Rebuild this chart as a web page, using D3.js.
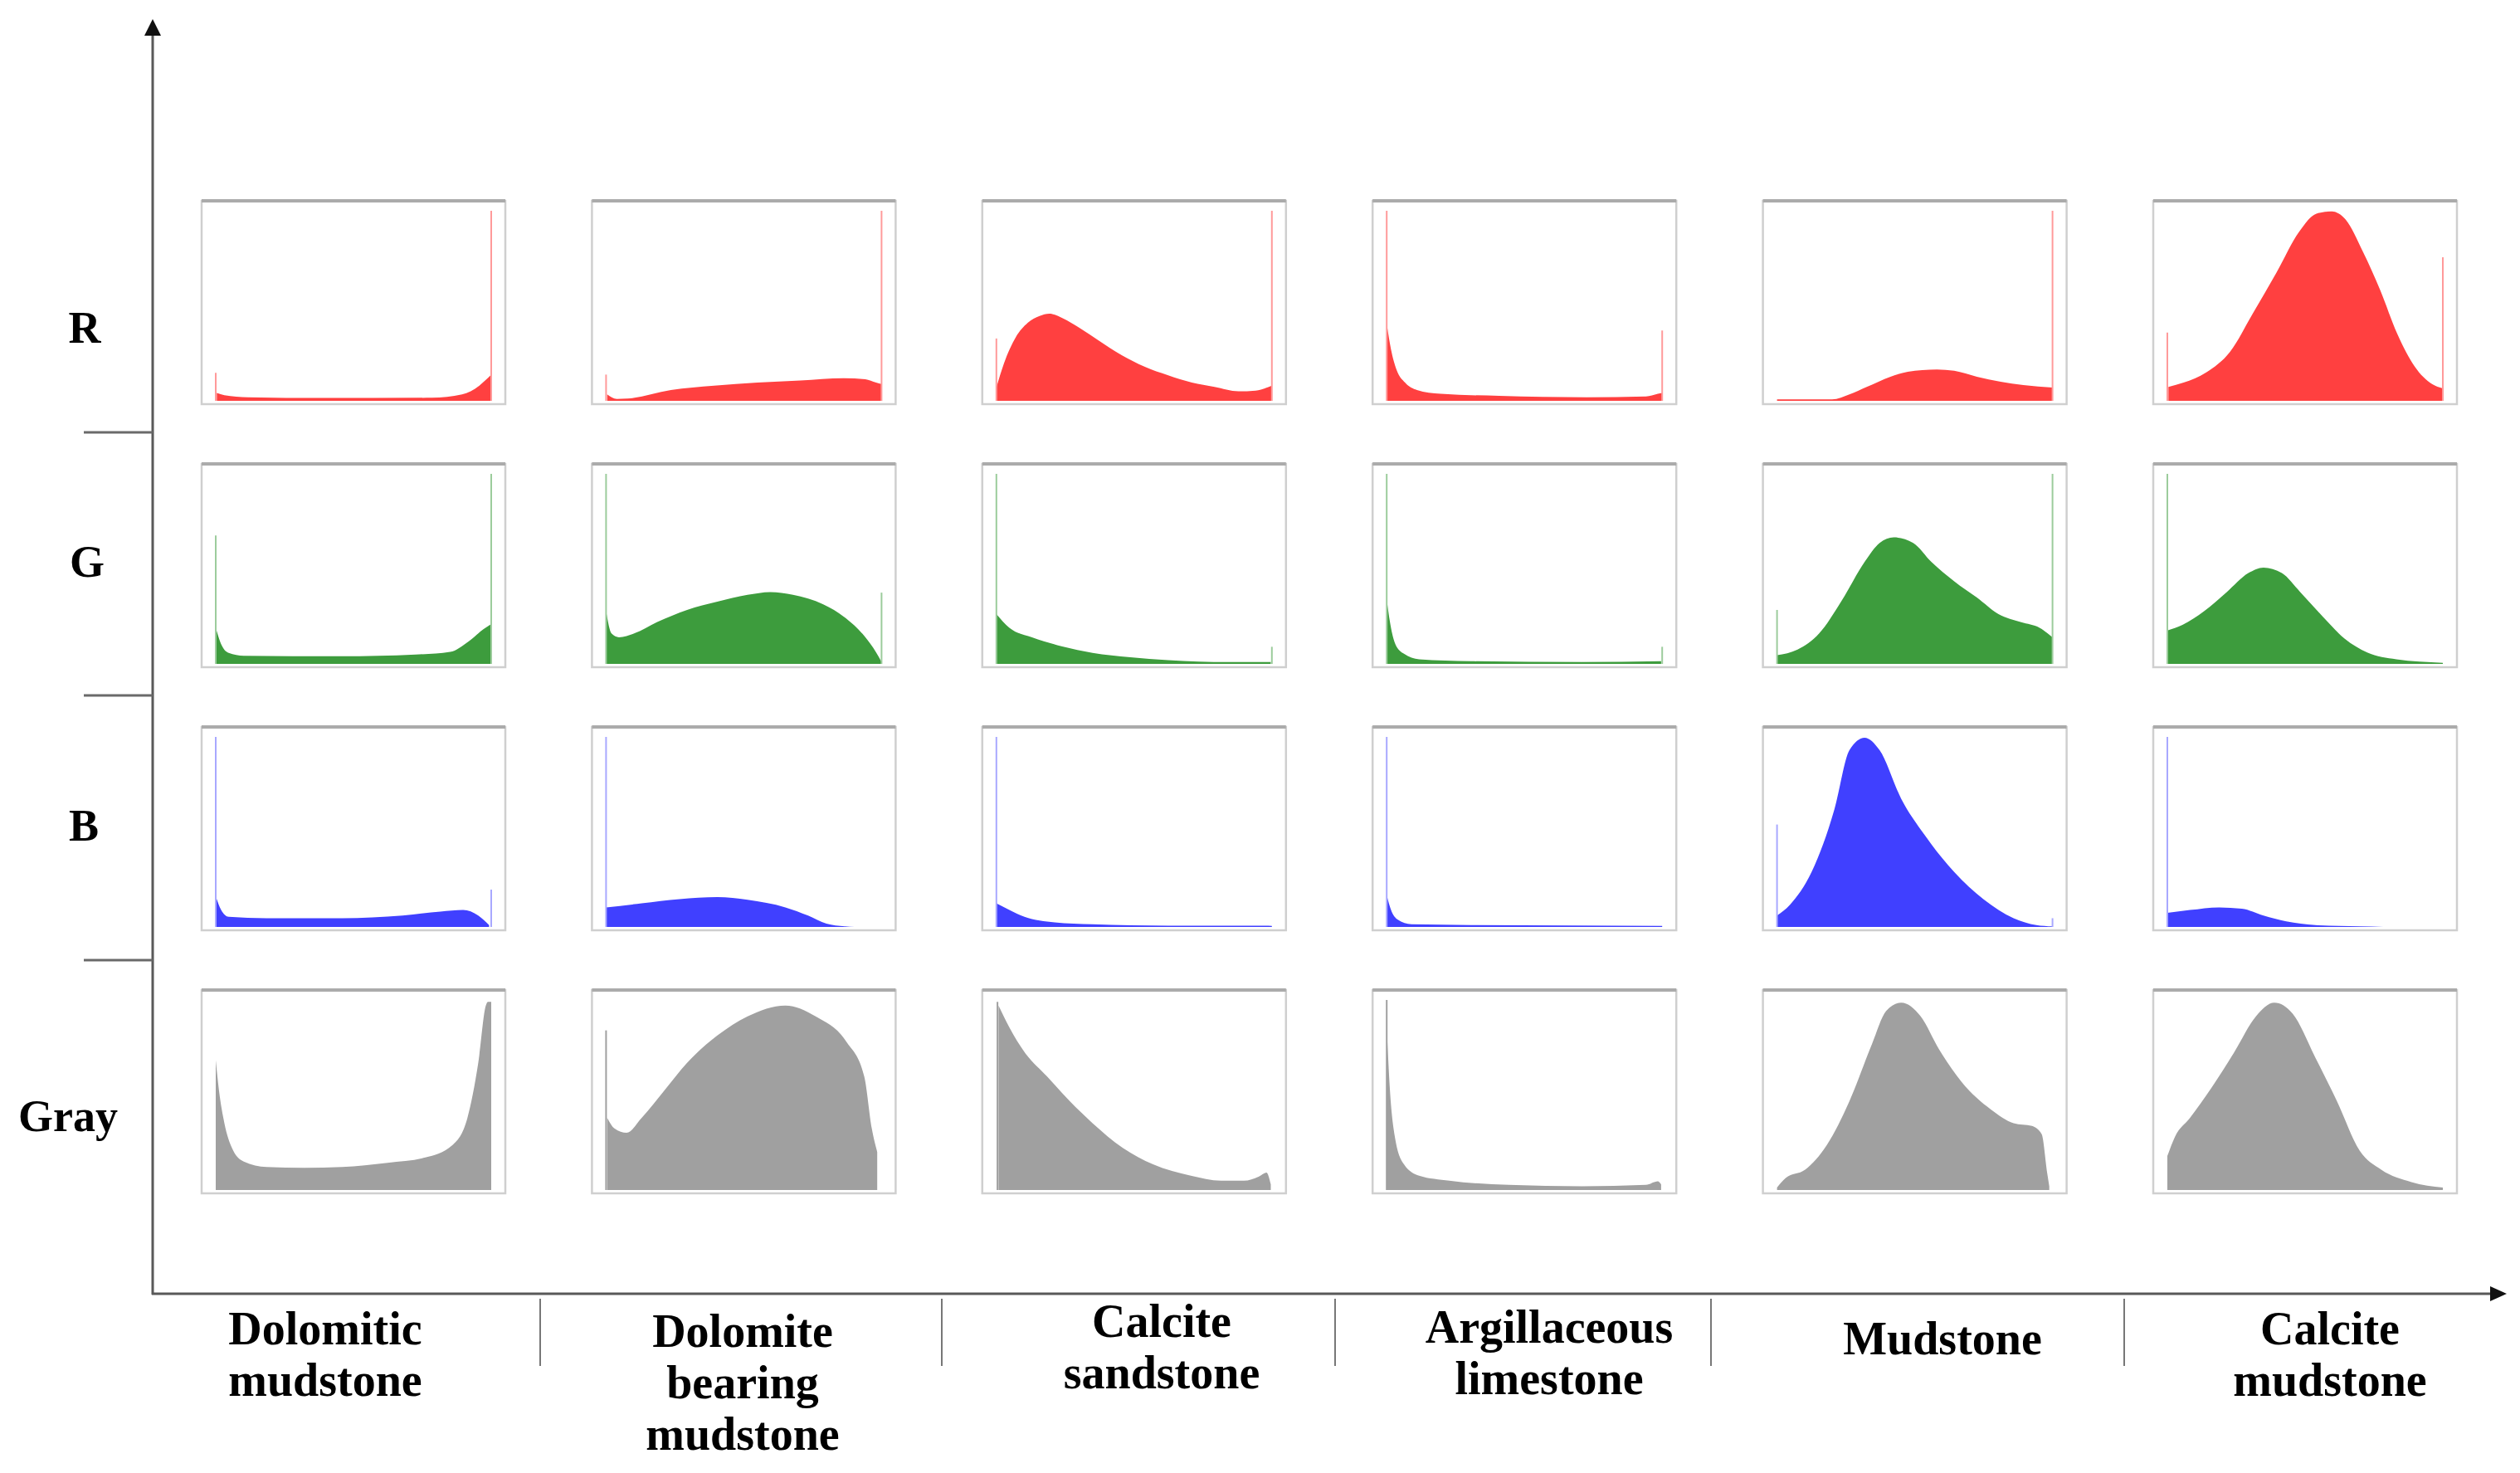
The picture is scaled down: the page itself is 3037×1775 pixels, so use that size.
<!DOCTYPE html>
<html>
<head>
<meta charset="utf-8">
<script src="https://cdn.jsdelivr.net/npm/d3@7"></script>
<style>
  body { margin: 0; background: #fff; }
  text { font-family: "Liberation Serif", "DejaVu Serif", serif; font-weight: bold; fill: #000; }
</style>
</head>
<body>
<script>
// rock types (x categories) and colour channels (rows)
var categories = ["Dolomitic mudstone", "Dolomite bearing mudstone", "Calcite sandstone",
    "Argillaceous limestone", "Mudstone", "Calcite mudstone"];
var channels = ["R", "G", "B", "Gray"];

// histogram outlines: [grey level 0-255, height in % of panel]
var rHist = [
    [[1, 4.2], [8, 3], [30, 1.9], [100, 1.5], [200, 1.6], [228, 3.4], [244, 8], [250, 11], [255, 13.8]],
    [[1, 3.4], [10, 1], [20, 1.2], [60, 5.7], [100, 8], [140, 9.6], [180, 10.7], [220, 11.9], [240, 11.4], [250, 9.6], [255, 8.8]],
    [[0, 7], [7, 19.6], [18, 33.5], [29, 41], [40, 44.7], [49, 45.9], [61, 43.6], [78, 38], [94, 32], [116, 24], [137, 18], [159, 13.4], [181, 9.6], [202, 7.3], [224, 5], [240, 5.4], [255, 8]],
    [[0, 40.5], [4, 27], [9, 16.5], [17, 9.6], [28, 5.7], [50, 3.7], [104, 2.6], [185, 1.9], [240, 2.3], [251, 3.7], [255, 4.2]],
    [[0, 0.8], [51, 0.8], [67, 3.4], [83, 7.3], [105, 12.7], [121, 15.3], [148, 16.5], [164, 15.8], [185, 12.7], [207, 10], [228, 8.3], [255, 7]],
    [[1, 7.3], [15, 9.6], [36, 15], [58, 25.8], [79, 45.9], [101, 67.5], [122, 89], [138, 98.5], [152, 99.7], [165, 95.4], [181, 78.5], [197, 58.3], [213, 35], [229, 18], [245, 8.8], [255, 6.5]]
];
var gHist = [
    [[0, 19], [5, 10.4], [12, 5.8], [26, 4.3], [116, 4], [185, 4.9], [217, 6.3], [234, 11.8], [248, 18.3], [255, 21]],
    [[0, 27.7], [5, 16], [12, 14], [26, 16], [47, 21.9], [75, 28.4], [103, 32.7], [131, 36.3], [152, 37.8], [173, 36.3], [201, 31.3], [222, 24], [239, 14.7], [250, 6], [255, 1]],
    [[0, 26.2], [12, 19], [33, 14], [61, 9.2], [89, 5.8], [124, 3.5], [159, 2], [215, 1], [254, 1]],
    [[0, 34], [3, 22], [8, 10.4], [16, 5.3], [30, 2.4], [78, 1.4], [181, 1], [254, 1.4]],
    [[0, 4.6], [19, 7.5], [39, 16], [60, 33.4], [81, 53.6], [95, 63.7], [108, 66.6], [126, 63.7], [143, 53.6], [164, 43.5], [185, 34.9], [205, 26.2], [226, 21.9], [243, 19], [255, 14]],
    [[0, 17.6], [14, 20.5], [34, 27.7], [55, 37.8], [75, 47.8], [89, 50.7], [106, 47.8], [123, 37.8], [144, 24.8], [164, 13.3], [185, 6], [212, 2.4], [255, 0.6]]
];
var bHist = [
    [[0, 16], [5, 8.9], [12, 5.3], [47, 4.6], [117, 4.6], [173, 6], [208, 8.1], [229, 8.9], [243, 6], [253, 1]],
    [[0, 10.3], [33, 12.4], [68, 14.6], [103, 15.7], [131, 14.3], [166, 10.3], [187, 6], [204, 1.7], [221, 0.3], [230, 0]],
    [[0, 12.4], [12, 8.9], [26, 5.3], [54, 2.4], [89, 1.4], [159, 0.7], [255, 0.6]],
    [[0, 16.7], [4, 8.9], [10, 3.9], [23, 1.4], [78, 1], [255, 0.6]],
    [[0, 6], [12, 11.7], [32, 28.9], [53, 61.7], [67, 93], [81, 99.6], [95, 93], [115, 67.4], [136, 48.9], [164, 28.9], [191, 14.6], [219, 4.6], [240, 1], [255, 0.3]],
    [[0, 7.4], [21, 8.9], [48, 10.3], [69, 9.6], [89, 6], [110, 2.9], [137, 1], [178, 0.3], [200, 0]]
];
var grayHist = [
    [[0, 68.3], [3, 52.4], [8, 35.2], [15, 22.2], [26, 15], [47, 12.1], [82, 11.7], [117, 12.1], [159, 14.3], [194, 17.1], [219, 23.6], [233, 38], [243, 66.9], [250, 97], [252, 99], [255, 99]],
    [[1, 38], [8, 32.3], [19, 30.1], [33, 38], [54, 52.4], [75, 66.9], [103, 81.3], [131, 91.4], [166, 97.1], [194, 91.4], [222, 78.4], [239, 59.7], [246, 32.3], [251, 20]],
    [[2, 97], [12, 85.6], [26, 72.6], [47, 59.7], [68, 46.7], [89, 35.2], [117, 22.2], [145, 13.5], [180, 7.5], [208, 4.9], [229, 4.9], [243, 7.1], [250, 9.2], [254, 3]],
    [[0, 85.6], [3, 52.4], [8, 26.5], [16, 13.5], [30, 7.5], [58, 4.9], [113, 2.7], [181, 2], [240, 2.7], [251, 4.6], [254, 3]],
    [[0, 1.3], [8, 6.3], [26, 10.7], [46, 23.6], [67, 46.7], [88, 77], [101, 94.2], [115, 98.6], [133, 91.4], [150, 74], [171, 56.8], [198, 42.4], [219, 35.2], [236, 33.7], [245, 29.4], [250, 9.2], [252, 2]],
    [[0, 17.9], [7, 28], [21, 38], [41, 53.9], [62, 72.6], [82, 91.4], [99, 98.6], [116, 92.8], [137, 69.7], [157, 46.7], [178, 20.7], [198, 10.7], [226, 4.2], [255, 1.3]]
];

// single-bin spikes (drawn as thin lines): [grey level, height %]
var rSpikes = [[[0, 14.7], [255, 100]], [[0, 13.8], [255, 100]], [[0, 32.8], [255, 100]], [[0, 100], [255, 37]], [[255, 100]], [[0, 35.9], [255, 75.6]]];
var gSpikes = [[[0, 67.6], [255, 100]], [[0, 100], [255, 37.5]], [[0, 100], [255, 9]], [[0, 100], [255, 9]], [[0, 28.4], [255, 100]], [[0, 100]]];
var bSpikes = [[[0, 100], [255, 19.6]], [[0, 100]], [[0, 100]], [[0, 100]], [[0, 53.9], [255, 4.6]], [[0, 100]]];
var graySpikes = [[], [[0, 84]], [[1, 99]], [[0, 100]], [], []];

var hists = [rHist, gHist, bHist, grayHist];
var spikes = [rSpikes, gSpikes, bSpikes, graySpikes];
var fills = ["#ff4040", "#3d9c3d", "#4040ff", "#a0a0a0"];
var spikeColors = ["#ff9a9a", "#9ccc9c", "#a8a8ff", "#a0a0a0"];

var width = 3037;
var height = 1775;

// layout (pixels)
var panel = { x0: 243, y0: 242, dx: 470.4, dy: 317, w: 366, h: 245 };
var inset = { left: 17, right: 17, top: 12, bottom: 4 };
var axisX = 184, axisY = 1559;
var rowLabelY = [413, 695, 1013, 1363];
var rowLabelX = [102, 105, 101, 82];
var rowSepY = [521, 838, 1157];
var colSepX = [651, 1135, 1609, 2062, 2560];
var colLabelX = [392, 895, 1400, 1867, 2341, 2808];
var colLabelY = [1620, 1623, 1611, 1618, 1632, 1620];
var lineGap = 62;

var svg = d3.select("body")
    .append("svg")
    .attr("width", width)
    .attr("height", height);

svg.append("rect")
    .attr("width", width)
    .attr("height", height)
    .attr("fill", "#fff");

var xScale = d3.scaleLinear()
    .domain([0, 255])
    .range([inset.left, panel.w - inset.right]);

var yScale = d3.scaleLinear()
    .domain([0, 100])
    .range([panel.h - inset.bottom, inset.top]);

// smooth outline through the read points
var area = d3.area()
    .x(function (d) { return xScale(d[0]); })
    .y0(yScale(0))
    .y1(function (d) { return yScale(d[1]); })
    .curve(d3.curveMonotoneX);

channels.forEach(function (ch, r) {
    categories.forEach(function (cat, c) {
        var g = svg.append("g")
            .attr("transform", "translate(" + (panel.x0 + c * panel.dx) + "," + (panel.y0 + r * panel.dy) + ")");

        g.append("rect")
            .attr("x", 0)
            .attr("y", 0)
            .attr("width", panel.w)
            .attr("height", panel.h)
            .attr("fill", "#fff")
            .attr("stroke", "#cfcfcf")
            .attr("stroke-width", 2.5);

        g.append("line")
            .attr("x1", 0).attr("x2", panel.w)
            .attr("y1", 0).attr("y2", 0)
            .attr("stroke", "#ababab")
            .attr("stroke-width", 4);

        g.append("path")
            .datum(hists[r][c])
            .attr("d", area)
            .attr("fill", fills[r]);

        g.selectAll(".spike")
            .data(spikes[r][c])
            .enter()
            .append("line")
            .attr("class", "spike")
            .attr("x1", function (d) { return xScale(d[0]); })
            .attr("x2", function (d) { return xScale(d[0]); })
            .attr("y1", yScale(0))
            .attr("y2", function (d) { return yScale(d[1]); })
            .attr("stroke", spikeColors[r])
            .attr("stroke-width", 2);
    });
});

// axes with arrowheads
svg.append("line")
    .attr("x1", axisX).attr("y1", axisY + 1)
    .attr("x2", axisX).attr("y2", 40)
    .attr("stroke", "#595959")
    .attr("stroke-width", 3);

svg.append("line")
    .attr("x1", axisX - 1).attr("y1", axisY)
    .attr("x2", 3004).attr("y2", axisY)
    .attr("stroke", "#595959")
    .attr("stroke-width", 3);

svg.append("path")
    .attr("d", "M" + axisX + ",23 L" + (axisX - 10) + ",43 L" + (axisX + 10) + ",43 Z")
    .attr("fill", "#111");

svg.append("path")
    .attr("d", "M3021," + axisY + " L3001," + (axisY - 9) + " L3001," + (axisY + 9) + " Z")
    .attr("fill", "#111");

// row separators and labels
svg.selectAll(".rowsep")
    .data(rowSepY)
    .enter()
    .append("line")
    .attr("x1", 101).attr("x2", axisX)
    .attr("y1", function (d) { return d; })
    .attr("y2", function (d) { return d; })
    .attr("stroke", "#6a6a6a")
    .attr("stroke-width", 3);

svg.selectAll(".rowlabel")
    .data(channels)
    .enter()
    .append("text")
    .attr("x", function (d, i) { return rowLabelX[i]; })
    .attr("y", function (d, i) { return rowLabelY[i]; })
    .attr("text-anchor", "middle")
    .attr("font-size", 54)
    .text(function (d) { return d; });

// column separators and labels
svg.selectAll(".colsep")
    .data(colSepX)
    .enter()
    .append("line")
    .attr("x1", function (d) { return d; })
    .attr("x2", function (d) { return d; })
    .attr("y1", axisY + 6).attr("y2", 1646)
    .attr("stroke", "#777")
    .attr("stroke-width", 2);

var labels = svg.selectAll(".collabel")
    .data(categories)
    .enter()
    .append("text")
    .attr("text-anchor", "middle")
    .attr("font-size", 56)
    .attr("transform", function (d, i) { return "translate(" + colLabelX[i] + "," + colLabelY[i] + ")"; });

labels.selectAll("tspan")
    .data(function (d) { return d.split(" "); })
    .enter()
    .append("tspan")
    .attr("x", 0)
    .attr("y", function (d, i) { return i * lineGap; })
    .text(function (d) { return d; });
</script>
</body>
</html>
